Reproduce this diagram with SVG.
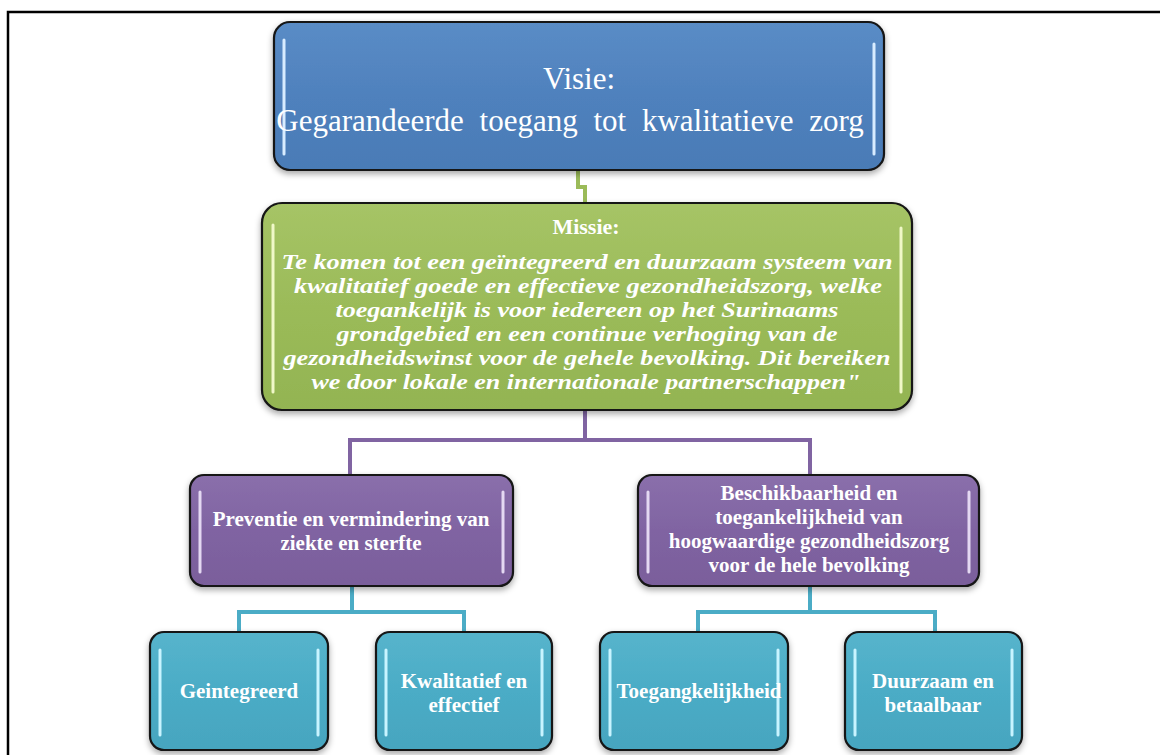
<svg xmlns="http://www.w3.org/2000/svg" width="1160" height="755" viewBox="0 0 1160 755">
<defs>
<style>
.box{stroke:#141414;stroke-width:2.2}
.blue{fill:url(#gBlue)}
.green{fill:url(#gGreen)}
.purple{fill:url(#gPurple)}
.teal{fill:url(#gTeal)}
.hl{stroke-width:3;stroke-linecap:round;fill:none}
.hlb{stroke:#d8ecff}
.hlg{stroke:#f0f8c8}
.hlp{stroke:#e4d8f2}
.hlt{stroke:#c8f4ff}
.serif{font-family:"Liberation Serif","Times New Roman",serif;fill:#ffffff;text-anchor:middle}
.vis{font-size:31px}
.mtitle{font-size:22px;font-weight:bold}
.mtext{font-size:21.5px;font-weight:bold;font-style:italic}
.lab{font-size:21px;font-weight:bold}
.con{fill:none;stroke-width:4;stroke-linejoin:miter}
</style>
<linearGradient id="gBlue" x1="0" y1="0" x2="0" y2="1"><stop offset="0" stop-color="#5a8cc6"/><stop offset="0.5" stop-color="#4f81bd"/><stop offset="1" stop-color="#4a7bb6"/></linearGradient>
<linearGradient id="gGreen" x1="0" y1="0" x2="0" y2="1"><stop offset="0" stop-color="#a6c466"/><stop offset="0.5" stop-color="#9bbb59"/><stop offset="1" stop-color="#93b452"/></linearGradient>
<linearGradient id="gPurple" x1="0" y1="0" x2="0" y2="1"><stop offset="0" stop-color="#8a6fab"/><stop offset="0.5" stop-color="#8064a2"/><stop offset="1" stop-color="#7a5e9b"/></linearGradient>
<linearGradient id="gTeal" x1="0" y1="0" x2="0" y2="1"><stop offset="0" stop-color="#56b4cc"/><stop offset="0.5" stop-color="#4bacc6"/><stop offset="1" stop-color="#46a5bf"/></linearGradient>
<filter id="sh" x="-5%" y="-5%" width="110%" height="120%"><feDropShadow dx="0" dy="3" stdDeviation="3" flood-color="#000" flood-opacity="0.35"/></filter>
</defs>
<rect x="8" y="12" width="1160" height="760" fill="#ffffff" stroke="#000" stroke-width="2.5"/>
<g id="connectors">
<path class="con" stroke="#9bbb59" d="M578 170 V187 H585 V204"/>
<path class="con" stroke="#8064a2" d="M585 410 V440 M350 476 V440 H810 V476"/>
<path class="con" stroke="#4bacc6" d="M352 586 V612 M239 633 V612 H464 V633"/>
<path class="con" stroke="#4bacc6" d="M810 586 V612 M698 633 V612 H935 V633"/>
</g>
<g id="visie">
<rect class="box blue" x="274" y="22" width="610" height="148" rx="16" filter="url(#sh)"/>
<line class="hl hlb" x1="284" y1="40" x2="284" y2="154"/>
<line class="hl hlb" x1="874" y1="44" x2="874" y2="154"/>
<text class="serif vis" x="579" y="89">Visie:</text>
<text class="serif vis" x="570" y="131" word-spacing="8">Gegarandeerde toegang tot kwalitatieve zorg</text>
</g>
<g id="missie">
<rect class="box green" x="262" y="203" width="650" height="207" rx="20" filter="url(#sh)"/>
<line class="hl hlg" x1="273" y1="225" x2="273" y2="392"/>
<line class="hl hlg" x1="901" y1="228" x2="901" y2="392"/>
<text class="serif mtitle" x="586" y="234">Missie:</text>
<text class="serif mtext" x="587" y="269" textLength="611" lengthAdjust="spacingAndGlyphs">Te komen tot een geïntegreerd en duurzaam systeem van</text>
<text class="serif mtext" x="588" y="293" textLength="588" lengthAdjust="spacingAndGlyphs">kwalitatief goede en effectieve gezondheidszorg, welke</text>
<text class="serif mtext" x="587" y="317" textLength="503" lengthAdjust="spacingAndGlyphs">toegankelijk is voor iedereen op het Surinaams</text>
<text class="serif mtext" x="587" y="341" textLength="501" lengthAdjust="spacingAndGlyphs">grondgebied en een continue verhoging van de</text>
<text class="serif mtext" x="587" y="365" textLength="607" lengthAdjust="spacingAndGlyphs">gezondheidswinst voor de gehele bevolking. Dit bereiken</text>
<text class="serif mtext" x="586" y="389" textLength="549" lengthAdjust="spacingAndGlyphs">we door lokale en internationale partnerschappen"</text>
</g>
<g id="preventie">
<rect class="box purple" x="190" y="475" width="323" height="111" rx="14" filter="url(#sh)"/>
<line class="hl hlp" x1="200" y1="492" x2="200" y2="572"/>
<line class="hl hlp" x1="503" y1="492" x2="503" y2="572"/>
<text class="serif lab" x="351" y="526">Preventie en vermindering van</text>
<text class="serif lab" x="351" y="550">ziekte en sterfte</text>
</g>
<g id="beschikbaarheid">
<rect class="box purple" x="638" y="475" width="341" height="111" rx="14" filter="url(#sh)"/>
<line class="hl hlp" x1="648" y1="492" x2="648" y2="572"/>
<line class="hl hlp" x1="969" y1="492" x2="969" y2="572"/>
<text class="serif lab" x="809" y="500">Beschikbaarheid en</text>
<text class="serif lab" x="809" y="524">toegankelijkheid van</text>
<text class="serif lab" x="809" y="548">hoogwaardige gezondheidszorg</text>
<text class="serif lab" x="809" y="572">voor de hele bevolking</text>
</g>
<g id="geintegreerd">
<rect class="box teal" x="150" y="632" width="178" height="118" rx="14" filter="url(#sh)"/>
<line class="hl hlt" x1="160" y1="650" x2="160" y2="735"/>
<line class="hl hlt" x1="318" y1="650" x2="318" y2="735"/>
<text class="serif lab" x="239" y="698">Geintegreerd</text>
</g>
<g id="kwalitatief">
<rect class="box teal" x="376" y="632" width="176" height="118" rx="14" filter="url(#sh)"/>
<line class="hl hlt" x1="386" y1="650" x2="386" y2="735"/>
<line class="hl hlt" x1="542" y1="650" x2="542" y2="735"/>
<text class="serif lab" x="464" y="688">Kwalitatief en</text>
<text class="serif lab" x="464" y="712">effectief</text>
</g>
<g id="toegankelijkheid">
<rect class="box teal" x="600" y="632" width="188" height="118" rx="14" filter="url(#sh)"/>
<line class="hl hlt" x1="610" y1="650" x2="610" y2="735"/>
<line class="hl hlt" x1="778" y1="650" x2="778" y2="735"/>
<text class="serif lab" x="699" y="698">Toegangkelijkheid</text>
</g>
<g id="duurzaam">
<rect class="box teal" x="845" y="632" width="177" height="118" rx="14" filter="url(#sh)"/>
<line class="hl hlt" x1="855" y1="650" x2="855" y2="735"/>
<line class="hl hlt" x1="1012" y1="650" x2="1012" y2="735"/>
<text class="serif lab" x="933" y="688">Duurzaam en</text>
<text class="serif lab" x="933" y="712">betaalbaar</text>
</g>
</svg>
